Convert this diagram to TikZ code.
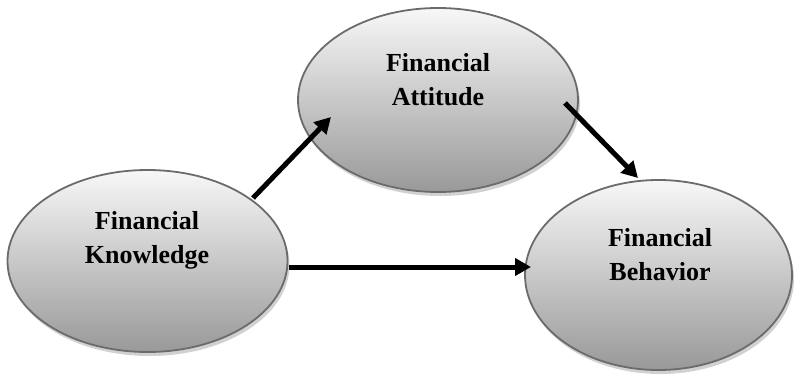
\documentclass[tikz,border=0pt]{standalone}
\usepackage{fontspec}
\setmainfont{Liberation Serif}
\usetikzlibrary{shapes.geometric,shadows,arrows.meta}
\begin{document}
\begin{tikzpicture}[x=1pt,y=-1pt,
 oval/.style={ellipse, draw=black!58, line width=1.8pt, inner sep=0pt,
   top color=white!97!black, bottom color=black!40,
   drop shadow={shadow xshift=2pt, shadow yshift=-4pt, fill=black!30, opacity=0.6}},
 lbl/.style={font=\bfseries\fontsize{26}{34}\selectfont, align=center, inner sep=0pt},
 arr/.style={line width=5pt, -{Triangle[length=16pt,width=17pt]}}]
\useasboundingbox (0,0) rectangle (794,375);
% ellipses
\node[oval, minimum width=280pt, minimum height=182pt] (k) at (147.5,261) {};
\node[oval, minimum width=280pt, minimum height=184pt] (a) at (438,100) {};
\node[oval, minimum width=267pt, minimum height=190pt] (b) at (658.5,275) {};
% labels
\node[lbl] (kt) at (147,240) {Financial\\Knowledge};
\node[lbl] (at) at (438,80) {Financial\\Attitude};
\node[lbl] (bt) at (660,255) {Financial\\Behavior};
% arrow end points
\coordinate (k1) at (253,198);
\coordinate (a1) at (331,117);
\coordinate (a2) at (565,103);
\coordinate (b1) at (638,178);
\coordinate (k2) at (289,267);
\coordinate (b2) at (531,267);
\draw[arr] (k1) -- (a1);
\draw[arr] (a2) -- (b1);
\draw[arr] (k2) -- (b2);
\end{tikzpicture}
\end{document}
